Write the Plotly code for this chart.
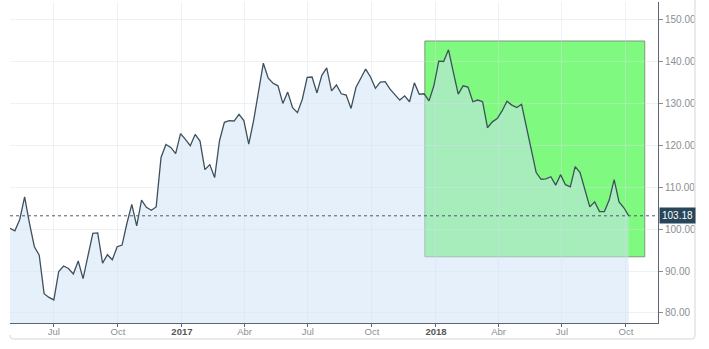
import plotly.graph_objects as go
import pandas as pd

# ---- data (weekly closes) ----
end_date = "2018-10-05"
values = [
    100.2, 99.6, 102.3, 107.7, 101.4, 95.8, 93.8, 84.6, 83.7, 83.1,
    89.9, 91.2, 90.6, 89.3, 92.4, 88.2, 93.6, 99.0, 99.1, 91.9,
    93.9, 92.7, 95.8, 96.2, 101.4, 105.9, 100.8, 106.9, 105.2, 104.5,
    105.3, 117.1, 120.2, 119.5, 118.0, 122.8, 121.4, 119.9, 122.6, 121.0,
    114.2, 115.4, 112.3,
    121.1, 125.5, 125.9, 125.8, 127.4, 125.9, 120.3, 125.9, 132.7, 139.6,
    136.0, 134.8, 134.2, 130.0, 132.7, 129.0, 127.8, 131.0, 136.2, 136.3,
    132.5, 136.7, 138.5, 133.0, 134.4, 132.3, 132.0, 128.8, 133.8, 136.0,
    138.2, 136.3, 133.6, 135.1, 135.2, 133.4, 132.0, 130.8, 131.8, 130.4,
    134.9, 132.2, 132.3, 130.6,
    134.2, 140.1, 140.0, 142.8, 137.4, 132.2, 134.2, 133.9, 130.4, 130.8,
    130.4, 124.2, 125.6, 126.4, 128.2, 130.5, 129.6, 129.0, 129.8, 124.2,
    119.0, 113.5, 111.9, 112.0, 112.5, 110.5, 113.0, 110.6, 110.1, 114.9,
    113.5, 109.5, 105.3, 106.5, 104.2, 104.2, 107.0, 111.8, 106.5, 105.1,
    103.18,
]
dates = pd.date_range(end=end_date, periods=len(values), freq="7D")
last_value = 103.18

x_tick_vals = ["2016-07-01", "2016-10-01", "2017-01-01", "2017-04-01", "2017-07-01",
               "2017-10-01", "2018-01-01", "2018-04-01", "2018-07-01", "2018-10-01"]
x_tick_text = ["Jul", "Oct", "<b style='color:#555'>2017</b>", "Abr", "Jul", "Oct",
               "<b style='color:#555'>2018</b>", "Abr", "Jul", "Oct"]
y_tick_vals = [80, 90, 100, 110, 120, 130, 140, 150]

x_range = ["2016-04-29", "2018-11-16"]
y_range = [77.6, 154.2]

# highlight box
box_x = ["2017-12-16", "2018-10-28"]
box_y = [93.4, 144.9]

fig = go.Figure()
fig.add_trace(go.Scatter(
    x=dates, y=values, mode="lines",
    line=dict(color="#3e505c", width=1.3),
    fill="tozeroy", fillcolor="rgba(205,225,245,0.5)",
    hoverinfo="skip", showlegend=False,
))

shapes = [
    dict(type="rect", xref="x", yref="y", x0=box_x[0], x1=box_x[1], y0=box_y[0], y1=box_y[1],
         fillcolor="rgb(128,249,128)", line=dict(color="rgba(110,130,110,0.8)", width=1),
         layer="below"),
    dict(type="line", xref="paper", yref="y", x0=0, x1=1, y0=last_value, y1=last_value,
         line=dict(color="#4a5a66", width=1, dash="dot")),
    # card border (bottom / right)
    dict(type="path", xref="paper", yref="paper",
         path="M 1.0571 1.02 L 1.0571 -0.0374 Q 1.0571 -0.0498 1.0509 -0.0498 L 0.006 -0.0498 Q 0 -0.0498 0 -0.0374",
         line=dict(color="#e2e4e6", width=1.5)),
]

grid_col = "rgba(215,222,230,0.4)"

fig.update_layout(
    width=709, height=349,
    margin=dict(l=10, r=51, t=2, b=26),
    paper_bgcolor="white", plot_bgcolor="white",
    font=dict(family="Liberation Sans, Arial, sans-serif", size=10, color="#8a8f94"),
    shapes=shapes,
    showlegend=False,
    annotations=[dict(
        xref="paper", yref="y", x=1.0, y=last_value, xanchor="left", yanchor="middle",
        text=f"{last_value:.2f}", showarrow=False,
        font=dict(color="white", size=10, family="Liberation Sans, Arial, sans-serif"),
        bgcolor="#27465a", borderpad=2, xshift=1,
    )],
)
fig.update_xaxes(
    type="date", range=x_range,
    tickvals=x_tick_vals, ticktext=x_tick_text,
    showgrid=True, gridcolor=grid_col, gridwidth=1,
    showline=True, linecolor="#5c6670", linewidth=1,
    ticks="outside", ticklen=3, tickcolor="#5c6670",
    ticklabelstandoff=-3,
    tickfont=dict(size=9.5, color="#8a8f94"),
    zeroline=False, fixedrange=True,
)
fig.update_yaxes(
    side="right", range=y_range,
    tickvals=y_tick_vals, tickformat=".2f",
    showgrid=True, gridcolor=grid_col, gridwidth=1,
    showline=True, linecolor="#5c6670", linewidth=1,
    ticks="outside", ticklen=4, tickcolor="#8a8f94",
    tickfont=dict(size=10, color="#8a8f94"),
    zeroline=False, fixedrange=True,
)

fig.write_html("out.html")
